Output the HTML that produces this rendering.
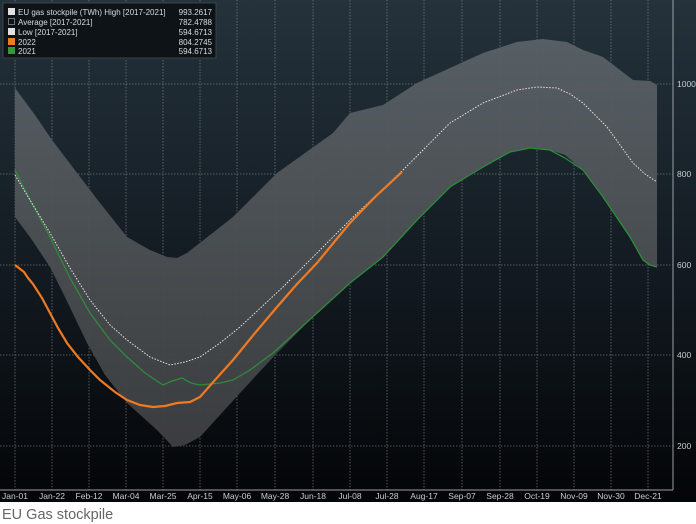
<!DOCTYPE html>
<html><head><meta charset="utf-8"><style>
body{margin:0;width:696px;height:524px;overflow:hidden;background:#fff;font-family:"Liberation Sans",sans-serif}
</style></head><body>
<svg width="696" height="524" viewBox="0 0 696 524" xmlns="http://www.w3.org/2000/svg" style="position:absolute;left:0;top:0">
<defs>
<linearGradient id="bg" x1="0" y1="0" x2="0" y2="1">
<stop offset="0" stop-color="#24323b"/><stop offset="0.5" stop-color="#141c23"/><stop offset="1" stop-color="#030507"/>
</linearGradient>
<linearGradient id="band" x1="0" y1="0" x2="0" y2="1">
<stop offset="0" stop-color="#5a6166"/><stop offset="1" stop-color="#3d3f41"/>
</linearGradient>
</defs>
<rect x="0" y="0" width="696" height="502" fill="url(#bg)"/>
<g stroke="#8a9198" stroke-width="0.8" stroke-dasharray="1.5,1.5" opacity="0.7">
<line x1="0" y1="84" x2="673" y2="84"/><line x1="0" y1="174" x2="673" y2="174"/><line x1="0" y1="265" x2="673" y2="265"/><line x1="0" y1="355" x2="673" y2="355"/><line x1="0" y1="446" x2="673" y2="446"/>
<line x1="15" y1="0" x2="15" y2="490"/><line x1="52" y1="0" x2="52" y2="490"/><line x1="89" y1="0" x2="89" y2="490"/><line x1="126" y1="0" x2="126" y2="490"/><line x1="163" y1="0" x2="163" y2="490"/><line x1="200" y1="0" x2="200" y2="490"/><line x1="237" y1="0" x2="237" y2="490"/><line x1="275" y1="0" x2="275" y2="490"/><line x1="313" y1="0" x2="313" y2="490"/><line x1="350" y1="0" x2="350" y2="490"/><line x1="387" y1="0" x2="387" y2="490"/><line x1="424" y1="0" x2="424" y2="490"/><line x1="462" y1="0" x2="462" y2="490"/><line x1="500" y1="0" x2="500" y2="490"/><line x1="537" y1="0" x2="537" y2="490"/><line x1="574" y1="0" x2="574" y2="490"/><line x1="611" y1="0" x2="611" y2="490"/><line x1="648" y1="0" x2="648" y2="490"/>
</g>
<path fill="url(#band)" opacity="0.95" d="M15,88 L35,115 L52,140 L100,203 L127,237 L150,250 L167,257 L177,258 L187,253 L233,217 L277,173 L333,133 L350,113 L383,105 L417,83 L450,68 L483,53 L517,42 L543,39 L567,42 L583,50 L603,57 L633,80 L650,81 L657,85 L657,267 L648,264 L643,260 L630,237 L603,197 L583,170 L565,155 L550,150 L530,148 L510,152 L483,167 L450,187 L417,220 L383,257 L350,283 L317,313 L277,353 L240,393 L200,437 L185,445 L173,447 L157,430 L127,403 L105,375 L87,343 L65,297 L50,267 L30,237 L15,217 Z"/>
<polyline fill="none" stroke="#2f8a3a" stroke-width="1.3" points="15,170 30,200 50,237 70,278 90,313 110,340 127,357 145,373 163,385 172,381 182,378 191,383 200,385 220,383 233,380 250,370 273,353 317,313 350,283 383,257 417,220 450,187 483,167 510,152 530,148 550,150 565,158 583,170 603,197 630,237 643,260 650,265 657,267"/>
<polyline fill="none" stroke="#e6e6e6" stroke-width="1" stroke-dasharray="1.5,1.5" points="15,175 30,200 50,233 70,268 90,300 110,325 127,340 150,357 170,365 185,362 200,357 220,343 240,327 283,287 350,220 403,170 450,123 483,103 517,90 537,87 557,88 570,94 583,103 607,127 633,163 645,174 657,182"/>
<polyline fill="none" stroke="#f07a22" stroke-width="2.2" points="15,265 24,272 28,278 33,284 42,298 50,313 58,328 67,343 78,357 90,370 100,380 115,392 127,400 140,405 153,407 165,406 177,403 190,402 200,397 215,380 233,360 255,333 277,307 297,284 317,263 335,241 350,223 375,197 402,172"/>
<line x1="673" y1="0" x2="673" y2="490" stroke="#9aa0a6" stroke-width="1"/>
<line x1="0" y1="490" x2="673" y2="490" stroke="#9aa0a6" stroke-width="1"/>
<g font-size="8.5" fill="#c8ccd0" font-family="Liberation Sans, sans-serif">
<text x="677" y="87">1000</text><text x="677" y="177">800</text><text x="677" y="268">600</text><text x="677" y="358">400</text><text x="677" y="449">200</text>
<g text-anchor="middle"><text x="15" y="499">Jan-01</text><text x="52" y="499">Jan-22</text><text x="89" y="499">Feb-12</text><text x="126" y="499">Mar-04</text><text x="163" y="499">Mar-25</text><text x="200" y="499">Apr-15</text><text x="237" y="499">May-06</text><text x="275" y="499">May-28</text><text x="313" y="499">Jun-18</text><text x="350" y="499">Jul-08</text><text x="387" y="499">Jul-28</text><text x="424" y="499">Aug-17</text><text x="462" y="499">Sep-07</text><text x="500" y="499">Sep-28</text><text x="537" y="499">Oct-19</text><text x="574" y="499">Nov-09</text><text x="611" y="499">Nov-30</text><text x="648" y="499">Dec-21</text></g>
</g>
<rect x="3" y="3" width="213" height="55" fill="#0d1317" stroke="#3a4248" stroke-width="1"/>
<g font-size="8" fill="#d8dbde" font-family="Liberation Sans, sans-serif">
<rect x="8" y="8" width="7" height="7" fill="#e0e0e0"/><text x="18" y="15">EU gas stockpile (TWh) High [2017-2021]</text><text x="212" y="15" text-anchor="end">993.2617</text>
<rect x="8.5" y="18.5" width="6" height="6" fill="none" stroke="#ccc" stroke-dasharray="1,1"/><text x="18" y="25">Average  [2017-2021]</text><text x="212" y="25" text-anchor="end">782.4788</text>
<rect x="8" y="28" width="7" height="7" fill="#e0e0e0"/><text x="18" y="35">Low  [2017-2021]</text><text x="212" y="35" text-anchor="end">594.6713</text>
<rect x="8" y="38" width="7" height="7" fill="#f07a22"/><text x="18" y="45">2022</text><text x="212" y="45" text-anchor="end">804.2745</text>
<rect x="8" y="47" width="7" height="7" fill="#2f9a3a"/><text x="18" y="54">2021</text><text x="212" y="54" text-anchor="end">594.6713</text>
</g>
<text x="2" y="519" font-size="14.5" fill="#666" font-family="Liberation Sans, sans-serif">EU Gas stockpile</text>
</svg>
</body></html>
